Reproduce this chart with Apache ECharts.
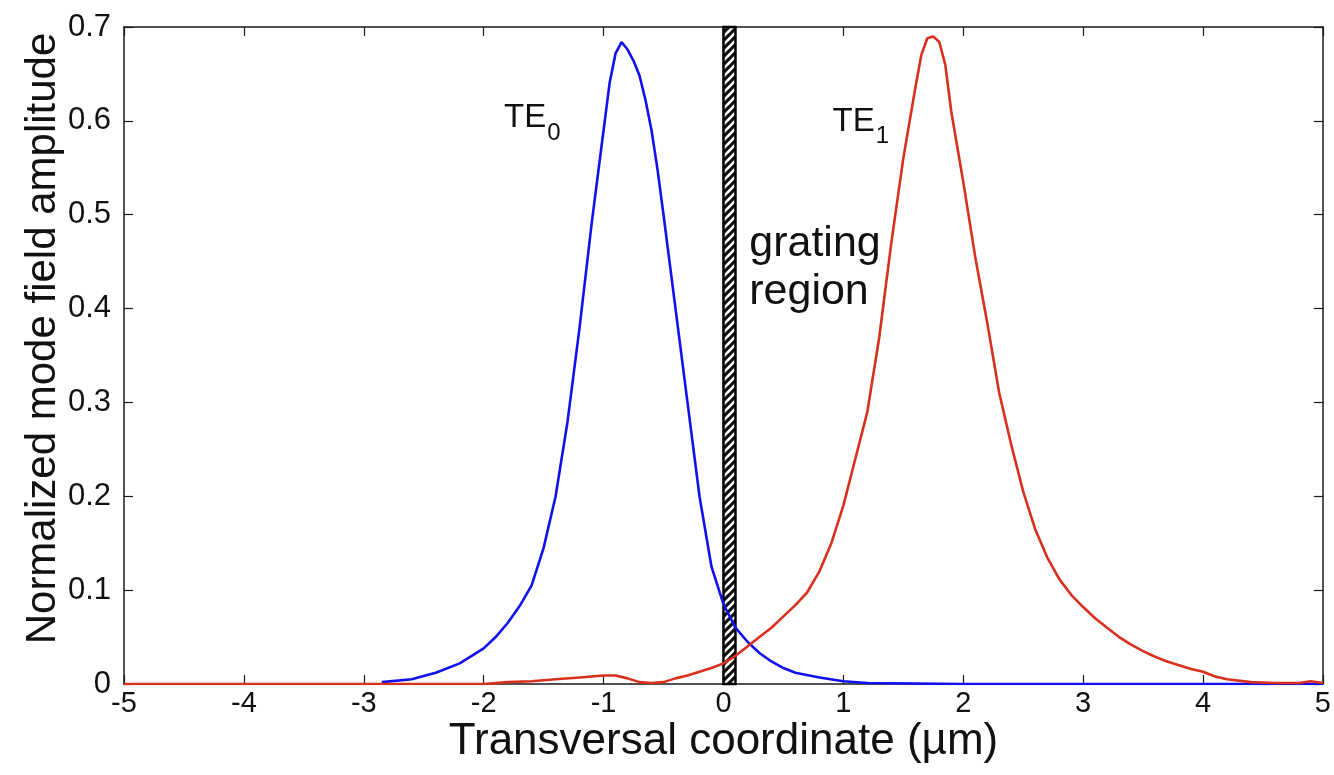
<!DOCTYPE html>
<html>
<head>
<meta charset="utf-8">
<script src="https://cdn.jsdelivr.net/npm/echarts@6/dist/echarts.min.js"></script>
<style>html,body{margin:0;padding:0;background:#fff;}#c{width:1334px;height:775px;}</style>
</head>
<body>
<div id="c"></div>
<script>
// TE0 mode (blue)
var blueX = [-2.85,-2.6,-2.4,-2.2,-2.0,-1.9,-1.8,-1.7,-1.6,-1.5,-1.4,-1.3,-1.2,-1.1,-1.0,-0.95,-0.9,-0.85,-0.8,-0.75,-0.7,-0.65,-0.6,-0.55,-0.5,-0.4,-0.3,-0.2,-0.1,0.0,0.1,0.2,0.3,0.4,0.5,0.6,0.8,1.0,1.2,2.0,3.0,4.0,5.0];
var blueY = [0.002,0.005,0.012,0.022,0.038,0.05,0.065,0.083,0.105,0.145,0.2,0.28,0.38,0.49,0.59,0.64,0.672,0.684,0.676,0.664,0.648,0.622,0.59,0.548,0.5,0.4,0.3,0.2,0.125,0.085,0.06,0.045,0.033,0.024,0.017,0.012,0.007,0.003,0.001,0.0,0.0,0.0,0.0];
// TE1 mode (red)
var redX = [-5.0,-4.0,-3.0,-2.0,-1.8,-1.6,-1.4,-1.2,-1.0,-0.9,-0.8,-0.7,-0.6,-0.5,-0.4,-0.3,-0.2,-0.1,0.0,0.1,0.2,0.3,0.4,0.5,0.6,0.7,0.8,0.9,1.0,1.1,1.2,1.3,1.4,1.5,1.6,1.65,1.7,1.75,1.8,1.85,1.9,2.0,2.1,2.2,2.3,2.4,2.5,2.6,2.7,2.8,2.9,3.0,3.1,3.2,3.3,3.4,3.5,3.6,3.7,3.8,3.9,4.0,4.1,4.2,4.4,4.6,4.8,4.9,5.0];
var redY = [0.0,0.0,0.0,0.0,0.002,0.003,0.005,0.007,0.009,0.009,0.006,0.002,0.001,0.002,0.006,0.009,0.013,0.017,0.022,0.03,0.04,0.05,0.06,0.072,0.084,0.098,0.12,0.15,0.19,0.24,0.29,0.37,0.47,0.56,0.635,0.67,0.688,0.69,0.684,0.66,0.61,0.535,0.455,0.385,0.31,0.255,0.205,0.165,0.135,0.112,0.095,0.082,0.07,0.06,0.05,0.042,0.035,0.029,0.024,0.02,0.016,0.013,0.008,0.005,0.002,0.001,0.001,0.003,0.001];
var xTicks = [-5,-4,-3,-2,-1,0,1,2,3,4,5];
var yTicks = [0,0.1,0.2,0.3,0.4,0.5,0.6,0.7];
var gratingRange = [0, 0.1];

function pairs(xs, ys){ return xs.map(function(x,i){ return [x, ys[i]]; }); }

// diagonal hatch pattern
var pc = document.createElement('canvas');
var s = 8; pc.width = s; pc.height = s;
var g = pc.getContext('2d');
g.fillStyle = '#111'; g.fillRect(0,0,s,s);
g.strokeStyle = '#fff'; g.lineWidth = 2.6;
g.beginPath();
g.moveTo(-2, s+2); g.lineTo(s+2, -2);
g.moveTo(-2, 2); g.lineTo(2, -2);
g.moveTo(s-2, s+2); g.lineTo(s+2, s-2);
g.stroke();

var font = 'Liberation Sans, Arial, sans-serif';
var chart = echarts.init(document.getElementById('c'), null, {renderer:'canvas'});
var axisCommon = {
  min: -5, max: 5, interval: 1, type: 'value',
  axisLine: {show: true, onZero: false, lineStyle: {color: '#1a1a1a', width: 1.5}},
  axisTick: {show: true, inside: true, length: 9, lineStyle: {color: '#1a1a1a', width: 1.2}},
  splitLine: {show: false}
};
chart.setOption({
  animation: false,
  backgroundColor: '#fff',
  grid: {left: 124, right: 11, top: 27, bottom: 91, containLabel: false},
  xAxis: [
    Object.assign({}, axisCommon, {
      position: 'bottom',
      name: 'Transversal coordinate (\u00b5m)', nameLocation: 'middle', nameGap: 36,
      nameMoveOverlap: false,
      nameTextStyle: {fontFamily: font, fontSize: 44, color: '#111', verticalAlign: 'top'},
      axisLabel: {show: true, margin: 5, fontFamily: font, fontSize: 29, color: '#111',
        formatter: function(v){ return xTicks.indexOf(v) >= 0 ? String(v) : ''; }}
    }),
    Object.assign({}, axisCommon, {position: 'top', axisLabel: {show: false}})
  ],
  yAxis: [
    {type: 'value', min: 0, max: 0.7, interval: 0.1, position: 'left',
     axisLine: {show: true, onZero: false, lineStyle: {color: '#1a1a1a', width: 1.5}},
     axisTick: {show: true, inside: true, length: 9, lineStyle: {color: '#1a1a1a', width: 1.2}},
     splitLine: {show: false},
     name: 'Normalized mode field amplitude', nameLocation: 'middle', nameGap: 60,
     nameMoveOverlap: false,
     nameTextStyle: {fontFamily: font, fontSize: 42, color: '#111', padding: [0, 0, 0, 34]},
     axisLabel: {show: true, margin: 13, fontFamily: font, fontSize: 31, color: '#111',
       formatter: function(v){ var r = Math.round(v*10)/10; return r === 0 ? '0' : String(r); }}
    },
    {type: 'value', min: 0, max: 0.7, interval: 0.1, position: 'right',
     axisLine: {show: true, onZero: false, lineStyle: {color: '#1a1a1a', width: 1.5}},
     axisTick: {show: true, inside: true, length: 9, lineStyle: {color: '#1a1a1a', width: 1.2}},
     splitLine: {show: false}, axisLabel: {show: false}}
  ],
  series: [
    {type: 'line', name: 'TE0', data: pairs(blueX, blueY), showSymbol: false, symbol: 'none',
     lineStyle: {color: '#1010F0', width: 2.6}, z: 3,
     markPoint: {symbol: 'circle', symbolSize: 0, silent: true,
       data: [{coord: [-1.83, 0.603]}],
       label: {show: true, position: 'inside', align: 'left', verticalAlign: 'middle',
         formatter: '{a|TE}{b|0}',
         rich: {a: {fontFamily: font, fontSize: 33, color: '#111'},
                b: {fontFamily: font, fontSize: 24, color: '#111', padding: [30,0,0,1]}}}}
    },
    {type: 'line', name: 'TE1', data: pairs(redX, redY), showSymbol: false, symbol: 'none',
     lineStyle: {color: '#D8301C', width: 2.6}, z: 4,
     markPoint: {symbol: 'circle', symbolSize: 0, silent: true,
       data: [{coord: [0.91, 0.599]}],
       label: {show: true, position: 'inside', align: 'left', verticalAlign: 'middle',
         formatter: '{a|TE}{b|1}',
         rich: {a: {fontFamily: font, fontSize: 33, color: '#111'},
                b: {fontFamily: font, fontSize: 24, color: '#111', padding: [30,0,0,1]}}}}
    },
    {type: 'line', name: 'grating', data: [], z: 6,
     markArea: {silent: true,
       itemStyle: {color: {image: pc, repeat: 'repeat'}, borderColor: '#000', borderWidth: 2.5},
       data: [[{coord: [gratingRange[0], 0]}, {coord: [gratingRange[1], 0.7]}]]},
     markPoint: {symbol: 'circle', symbolSize: 0, silent: true,
       data: [{coord: [0.215, 0.443]}],
       label: {show: true, position: 'inside', align: 'left', verticalAlign: 'middle',
         formatter: 'grating\nregion', fontFamily: font, fontSize: 43, lineHeight: 48, color: '#111'}}
    }
  ]
});
</script>
</body>
</html>
